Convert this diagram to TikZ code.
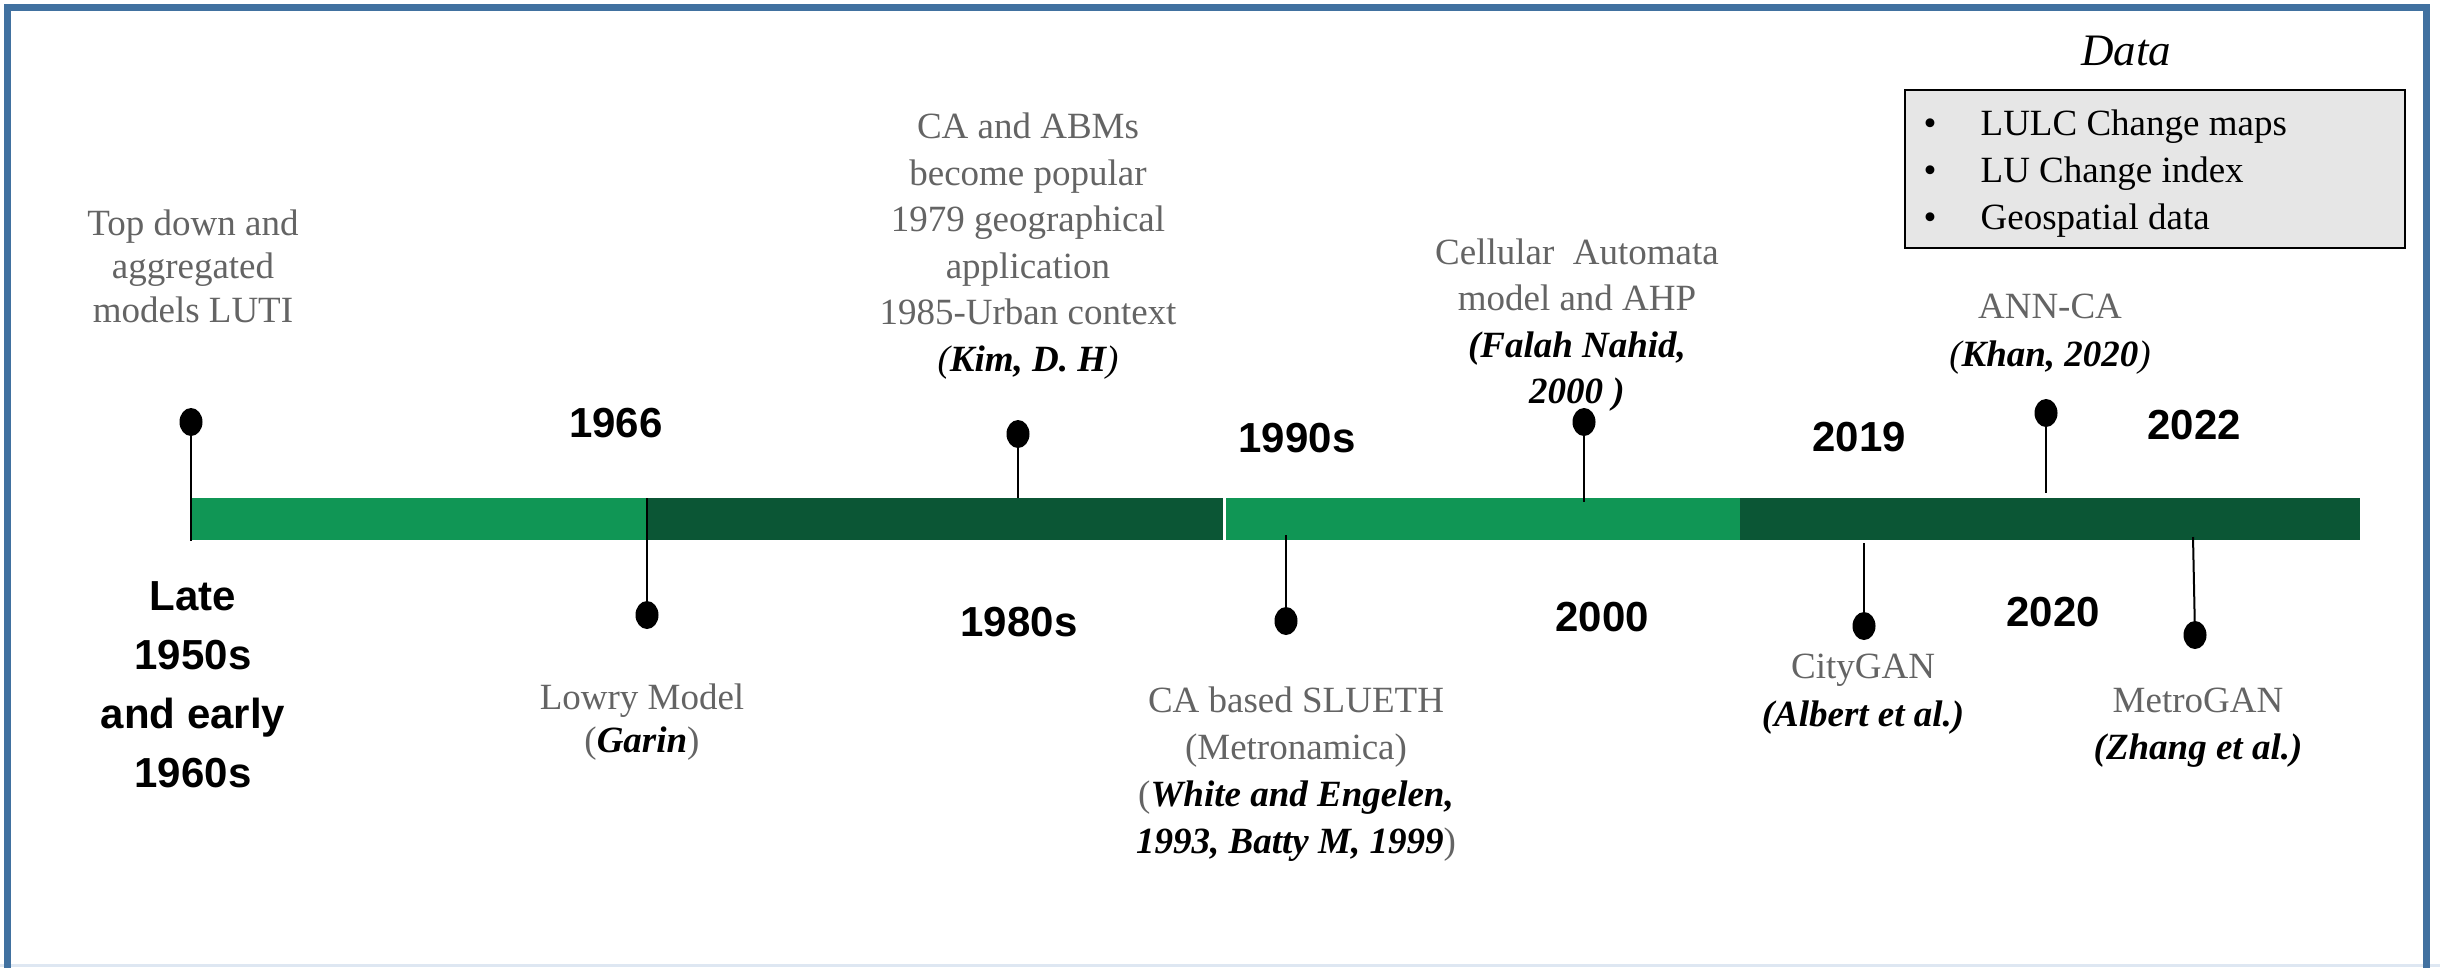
\documentclass[tikz,border=0pt]{standalone}
\usepackage{fontspec}
\setmainfont{Liberation Serif}
\newfontfamily\yearfont{Liberation Sans}
\usetikzlibrary{shapes.geometric}
\definecolor{lightgrn}{RGB}{16,150,85}
\definecolor{darkgrn}{RGB}{11,86,53}
\definecolor{framebl}{RGB}{65,113,160}
\definecolor{txtgray}{RGB}{100,100,100}
\definecolor{boxgray}{RGB}{230,230,230}
\definecolor{faintbl}{RGB}{222,231,242}
\newcommand{\cit}[1]{{\color{black}\itshape #1}}
\begin{document}
\begin{tikzpicture}[x=1pt,y=-1pt,
  dot/.style={ellipse,fill=black,inner sep=0pt,minimum width=23pt,minimum height=28pt},
  stem/.style={line width=2pt,black},
  yearlbl/.style={font=\yearfont\bfseries\fontsize{42}{59}\selectfont,align=center,inner sep=0pt},
  desc/.style={font=\fontsize{37}{46.5}\selectfont,text=txtgray,align=center,inner sep=0pt}
]
\useasboundingbox (0,0) rectangle (2440,967);
\fill[white] (0,0) rectangle (2440,967);
% frame
\draw[faintbl, line width=3pt] (0,965) -- (2440,965);
\draw[framebl, line width=7pt] (7,990) -- (7,7) -- (2426,7) -- (2426,990);

% timeline bar
\fill[lightgrn] (191,498) rectangle (647,540);
\fill[darkgrn]  (647,498) rectangle (1223,540);
\fill[lightgrn] (1226,498) rectangle (1740,540);
\fill[darkgrn]  (1740,498) rectangle (2360,540);

% bar anchor points
\coordinate (b1) at (191,541);
\coordinate (b2) at (647,498);
\coordinate (b3) at (1018,498);
\coordinate (b4) at (1286,535);
\coordinate (b5) at (1584,502);
\coordinate (b6) at (1864,543);
\coordinate (b7) at (2046,493);
\coordinate (b8) at (2193,537);

% dots
\node[dot] (d1) at (191,422) {};
\node[dot] (d2) at (647,615) {};
\node[dot] (d3) at (1018,434) {};
\node[dot] (d4) at (1286,621) {};
\node[dot] (d5) at (1584,422) {};
\node[dot] (d6) at (1864,626) {};
\node[dot] (d7) at (2046,413) {};
\node[dot] (d8) at (2195,635) {};

% stems
\draw[stem] (d1.center) -- (b1);
\draw[stem] (b2) -- (d2.center);
\draw[stem] (d3.center) -- (b3);
\draw[stem] (b4) -- (d4.center);
\draw[stem] (d5.center) -- (b5);
\draw[stem] (b6) -- (d6.center);
\draw[stem] (d7.center) -- (b7);
\draw[stem] (b8) -- (d8.center);

% year labels
\node[yearlbl] (y1966) at (616,423) {1966};
\node[yearlbl] (y1990) at (1297,438) {1990s};
\node[yearlbl] (y2019) at (1859,437) {2019};
\node[yearlbl] (y2022) at (2194,425) {2022};
\node[yearlbl] (ylate) at (193,685) {Late\\1950s\\and early\\1960s};
\node[yearlbl] (y1980) at (1019,622) {1980s};
\node[yearlbl] (y2000) at (1602,617) {2000};
\node[yearlbl] (y2020) at (2053,612) {2020};

% descriptions
\node[desc,font=\fontsize{37}{43.5}\selectfont] (topdown) at (193,266) {Top down and\\aggregated\\models LUTI};
\node[desc] (caabm) at (1028,246) {CA and ABMs\\become popular\\1979 geographical\\application\\1985-Urban context\\\cit{(\textbf{Kim, D. H})}};
\node[desc] (cellular) at (1577,325) {Cellular~ Automata\\model and AHP\\\cit{\textbf{(Falah Nahid,}}\\\cit{\textbf{2000 )}}};
\node[desc,font=\fontsize{37}{48}\selectfont] (annca) at (2050,334) {ANN-CA\\\cit{(\textbf{Khan, 2020})}};
\node[desc,font=\fontsize{37}{43}\selectfont] (lowry) at (642,722) {Lowry Model\\(\cit{\textbf{Garin}})};
\node[desc,font=\fontsize{37}{47}\selectfont] (slueth) at (1296,774) {CA based SLUETH\\(Metronamica)\\(\cit{\textbf{White and Engelen,}}\\\cit{\textbf{1993, Batty M, 1999}})};
\node[desc,font=\fontsize{37}{48}\selectfont] (citygan) at (1863,694) {CityGAN\\\cit{\textbf{(Albert et al.)}}};
\node[desc,font=\fontsize{37}{47}\selectfont] (metrogan) at (2198,728) {MetroGAN\\\cit{\textbf{(Zhang et al.)}}};

% data box
\node[font=\itshape\fontsize{45}{50}\selectfont,inner sep=0pt] (datatitle) at (2126,51) {Data};
\node[draw=black,line width=2pt,fill=boxgray,minimum width=500pt,minimum height=158pt,inner sep=0pt] (databox) at (2155,169) {};
\node[anchor=west,inner sep=0pt,font=\fontsize{37}{46.7}\selectfont] (datalist) at (1923.5,173)
  {\begin{tabular}{@{}l@{\hspace{44pt}}l@{}}
   • & LULC Change maps\\
   • & LU Change index\\
   • & Geospatial data
   \end{tabular}};
\end{tikzpicture}
\end{document}
